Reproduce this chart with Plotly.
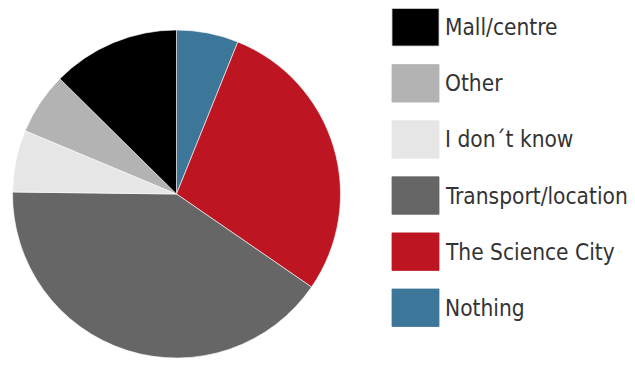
import plotly.graph_objects as go

labels = ["Mall/centre", "Other", "I don\u00b4t know", "Transport/location", "The Science City", "Nothing"]
values = [12.6, 6.1, 6.1, 40.6, 28.5, 6.1]
colors = ["#000000", "#b3b3b3", "#e6e6e6", "#666666", "#bd1622", "#3c7699"]

W, H = 635, 365

fig = go.Figure()
fig.add_trace(go.Pie(
    labels=labels[::-1],
    values=values[::-1],
    marker=dict(colors=colors[::-1], line=dict(color="white", width=0.6)),
    sort=False,
    direction="clockwise",
    rotation=0,
    textinfo="none",
    hoverinfo="label+percent",
    showlegend=False,
    domain=dict(x=[12.5 / W, 340.5 / W], y=[7 / H, 335 / H]),
))

# custom legend with large swatches
shapes = []
annotations = []
top0, step, sw_h = 8.5, 56.1, 37.5
for i, (lab, col) in enumerate(zip(labels, colors)):
    y_top = top0 + i * step
    y_bot = y_top + sw_h
    shapes.append(dict(
        type="rect", xref="paper", yref="paper",
        x0=392 / W, x1=439 / W, y0=1 - y_bot / H, y1=1 - y_top / H,
        fillcolor=col, line=dict(color="#d0d0d0" if i == 0 else col, width=0.8),
    ))
    annotations.append(dict(
        x=443 / W, y=1 - (y_top + sw_h / 2) / H, xref="paper", yref="paper",
        text=lab, showarrow=False, xanchor="left", yanchor="middle",
        font=dict(family="DejaVu Sans Condensed, DejaVu Sans", size=22.5, color="#333333"),
    ))

fig.update_layout(
    width=W, height=H,
    margin=dict(l=0, r=0, t=0, b=0),
    paper_bgcolor="white",
    plot_bgcolor="white",
    shapes=shapes,
    annotations=annotations,
)

fig.write_html(
    "out.html",
    config={"displayModeBar": False},
    post_script="document.body.style.margin='0';document.body.style.overflow='hidden';",
)
